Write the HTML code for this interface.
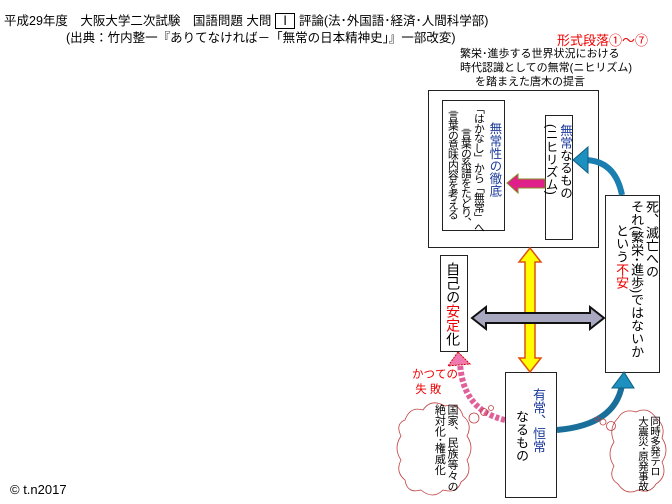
<!DOCTYPE html>
<html><head><meta charset="utf-8"><style>
body{margin:0;width:672px;height:504px;background:#fff;position:relative;overflow:hidden;font-family:"Liberation Sans","Noto Sans CJK JP",sans-serif;color:#000}
.a{position:absolute;white-space:nowrap}
.box{position:absolute;border:1px solid #222;background:#fff;box-sizing:border-box}
.v{writing-mode:vertical-rl;position:absolute;white-space:nowrap;line-height:1.15}
.b{color:#1a3a9a}.r{color:#e00}
</style></head><body>
<div class="a" style="left:4px;top:10px;font-size:12.5px">平成29年度　大阪大学二次試験　国語問題 大問 <span style="border:1px solid #000;padding:0 3px">Ⅰ</span> 評論(法･外国語･経済･人間科学部)</div>
<div class="a" style="left:66px;top:27px;font-size:12.5px">(出典：竹内整一『ありてなければ－「無常の日本精神史」』一部改変)</div>
<div class="a r" style="left:557px;top:30px;font-size:13px">形式段落①～⑦</div>
<div class="a" style="left:460px;top:47px;width:140px;text-align:center;font-size:11px;line-height:14px">繁栄･進歩する世界状況における<br>時代認識としての無常(ニヒリズム)<br>を踏まえた唐木の提言</div>

<svg width="672" height="504" style="position:absolute;left:0;top:0">
<path d="M505 420 Q462 410 460 362" stroke="#e0609a" stroke-width="6" fill="none" stroke-dasharray="4 2"/>
<polygon points="458,352 448,366 470,364" fill="#f07ab0" stroke="#c00" stroke-dasharray="2 1"/>
</svg>

<div class="box" style="left:428px;top:90px;width:171px;height:158px"></div>
<div class="box" style="left:442px;top:100px;width:63px;height:131px"></div>
<div class="v b" style="left:487px;top:122px;font-size:12.5px">無常性の徹底</div>
<div class="v" style="left:472px;top:103px;font-size:10.8px;letter-spacing:-0.9px">「はかなし」から「無常」へ</div>
<div class="v" style="left:459px;top:128px;font-size:10.8px;letter-spacing:-0.9px">言葉の系譜をたどり、</div>
<div class="v" style="left:446px;top:110px;font-size:10.8px;letter-spacing:-0.9px">言葉の意味内容を考える</div>
<div class="box" style="left:545px;top:115px;width:28px;height:125px"></div>
<div class="v" style="left:546px;top:124px;font-size:12.5px;width:26px"><span class="b">無常</span>なるもの<br>(ニヒリズム)</div>

<div class="box" style="left:605px;top:195px;width:55px;height:178px"></div>
<div class="v" style="left:608px;top:200px;font-size:13px;width:50px">死、滅亡への<br>それ(繁栄･進歩)ではないか<br><span style="padding-top:24px">という<span class="r">不安</span></span></div>
<div class="box" style="left:440px;top:255px;width:28px;height:97px"></div>
<div class="v" style="left:445px;top:262px;font-size:14px">自己の<span class="r">安定</span>化</div>
<div class="box" style="left:505px;top:372px;width:52px;height:126px"></div>
<div class="v b" style="left:530px;top:388px;font-size:13px">有常、恒常</div>
<div class="v" style="left:513px;top:410px;font-size:13px">なるもの</div>

<svg width="672" height="504" style="position:absolute;left:0;top:0">
<path d="M622 195 Q615 160 584 160" stroke="#1a7fb0" stroke-width="6" fill="none"/>
<polygon points="573,160 588,147 588,173" fill="#1e90c0" stroke="#0e5f80"/>
<path d="M557 430 Q615 425 622 385" stroke="#1a6f9a" stroke-width="6" fill="none"/>
<polygon points="624,372 612,388 634,388" fill="#1e90c0" stroke="#0e5f80"/>
<polygon points="507,183 518,174 518,179 545,179 545,188 518,188 518,193" fill="#e0208a" stroke="#8a8a20" stroke-width="1"/>
<polygon points="530,248 541,262 535,262 535,358 541,358 530,372 519,358 525,358 525,262 519,262" fill="#ffff00" stroke="#e05010" stroke-width="1.5"/>
<polygon points="472,318 486,307 486,313 590,313 590,307 604,318 590,329 590,323 486,323 486,329" fill="#a8a8c0" stroke="#111" stroke-width="2"/>
<g fill="none" stroke="#c04040" stroke-width="0.8">
<path d="M405 420 q5-14 18-10 q8-12 22-4 q14-4 18 10 q10 8 4 20 q8 12 0 24 q6 14-6 22 q-4 12-18 8 q-10 10-22 0 q-14 4-16-10 q-10-8-4-20 q-8-12 0-24 q-6-12 4-16z"/>
<circle cx="474" cy="418" r="5"/><circle cx="484" cy="412" r="3.5"/><circle cx="491" cy="408" r="2.5"/>
<path d="M618 418 q6-10 18-6 q12-6 20 6 q10 8 6 20 q8 12 0 24 q6 14-6 22 q-6 10-18 6 q-12 6-20-6 q-10-6-4-18 q-8-12 0-24 q-6-14 4-24z"/>
<circle cx="611" cy="426" r="4.5"/><circle cx="603" cy="422" r="3"/><circle cx="597" cy="419" r="2"/>
</g>
</svg>

<div class="a r" style="left:412px;top:368px;font-size:11.5px;line-height:15px">かつての<br>&nbsp;失 敗</div>
<div class="v" style="left:424px;top:404px;font-size:11px;width:34px">国家、民族等々の<br>絶対化･権威化</div>
<div class="v" style="left:627px;top:416px;font-size:10.5px;width:34px;letter-spacing:-0.5px">同時多発テロ<br>大震災･原発事故</div>
<div class="a" style="left:10px;top:482px;font-size:13px">© t.n2017</div>
</body></html>
